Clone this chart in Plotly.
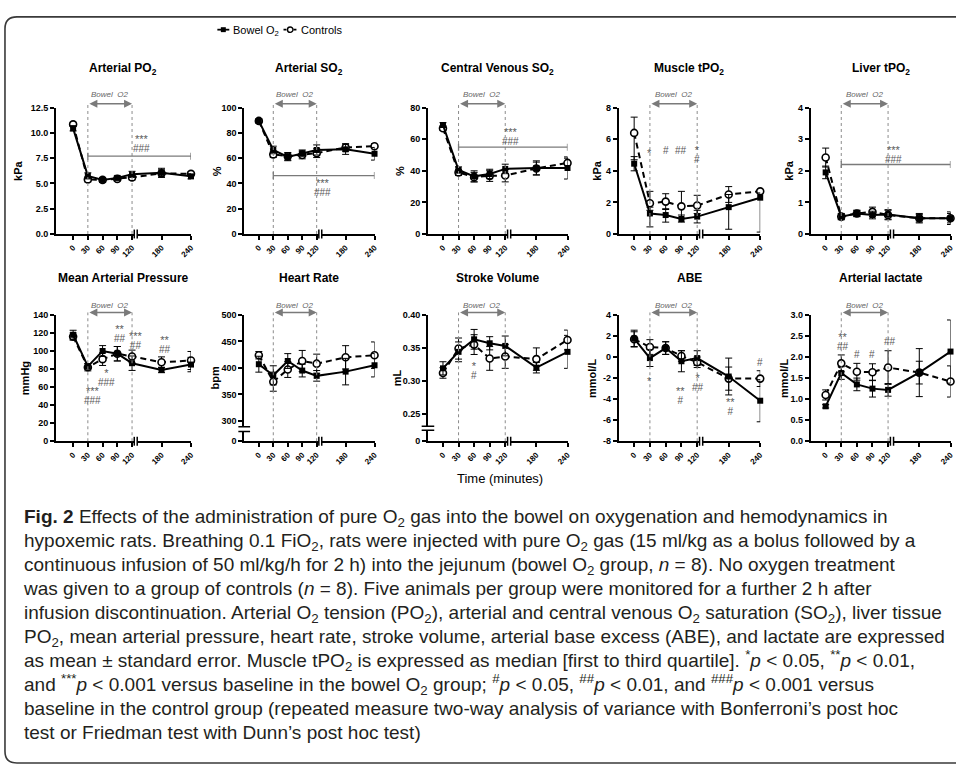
import plotly.graph_objects as go

W, H = 956, 770

# ---------------- data ----------------
time_min = [0, 30, 60, 90, 120, 180, 240]
time_labels = ["0", "30", "60", "90", "120", "180", "240"]

# Arterial PO2 (kPa)
po2_bowel = [10.45, 5.75, 5.35, 5.55, 5.9, 6.05, 5.7]
po2_bowel_se = [0.25, 0.3, 0.2, 0.2, 0.3, 0.45, 0.25]
po2_ctrl = [10.85, 5.4, 5.35, 5.45, 5.6, 6.0, 5.95]
po2_ctrl_se = [0.2, 0.25, 0.25, 0.2, 0.25, 0.35, 0.2]

# Arterial SO2 (%)
so2_bowel = [89.5, 66.5, 61.0, 64.0, 66.5, 67.0, 63.5]
so2_bowel_se = [1.5, 3.0, 3.0, 2.5, 4.0, 4.0, 5.0]
so2_ctrl = [89.5, 63.0, 61.5, 62.5, 64.0, 68.5, 69.5]
so2_ctrl_se = [1.5, 2.5, 3.0, 3.0, 3.5, 3.0, 2.0]

# Central venous SO2 (%)
cvso2_bowel = [69.0, 40.5, 36.5, 38.0, 41.2, 41.8, 41.8]
cvso2_bowel_se = [1.5, 2.0, 3.5, 3.0, 3.0, 4.5, 7.0]
cvso2_ctrl = [67.0, 39.0, 36.0, 36.8, 37.0, 41.5, 45.0]
cvso2_ctrl_se = [1.5, 2.0, 3.0, 3.5, 4.0, 4.0, 3.0]

# Muscle tPO2 (kPa) median [Q1, Q3]
mus_bowel = [4.45, 1.3, 1.2, 0.95, 1.1, 1.7, 2.3]
mus_bowel_q1 = [4.0, 0.45, 0.75, 0.75, 0.7, 0.3, 0.12]
mus_bowel_q3 = [4.9, 1.7, 1.6, 1.2, 1.5, 2.5, 2.6]
mus_ctrl = [6.4, 1.95, 2.05, 1.75, 1.8, 2.5, 2.7]
mus_ctrl_q1 = [4.7, 1.5, 1.55, 1.0, 1.3, 2.0, 2.6]
mus_ctrl_q3 = [7.4, 2.7, 2.55, 2.7, 2.45, 3.0, 2.8]

# Liver tPO2 (kPa)
liv_bowel = [1.95, 0.55, 0.65, 0.6, 0.62, 0.5, 0.5]
liv_bowel_se = [0.2, 0.08, 0.1, 0.12, 0.15, 0.12, 0.15]
liv_ctrl = [2.42, 0.55, 0.65, 0.7, 0.6, 0.5, 0.5]
liv_ctrl_se = [0.3, 0.1, 0.1, 0.15, 0.15, 0.15, 0.2]

# Mean arterial pressure (mmHg)
map_bowel = [118, 83, 100, 97, 86.5, 79, 85]
map_bowel_se = [5, 3, 6, 8, 8, 3, 8]
map_ctrl = [116, 82, 91, 97, 94, 87.5, 89.5]
map_ctrl_se = [4, 4, 7, 8, 7, 6, 10]

# Heart rate (bpm)
hr_bowel = [407, 386, 413, 395, 385, 393, 405]
hr_bowel_se = [15, 18, 14, 12, 10, 25, 22]
hr_ctrl = [424, 374, 397, 413, 408, 420, 424]
hr_ctrl_se = [7, 18, 15, 20, 18, 22, 25]

# Stroke volume (mL)
sv_bowel = [0.319, 0.344, 0.363, 0.357, 0.353, 0.320, 0.344]
sv_bowel_se = [0.010, 0.015, 0.015, 0.010, 0.015, 0.008, 0.025]
sv_ctrl = [0.312, 0.349, 0.355, 0.334, 0.337, 0.333, 0.362]
sv_ctrl_se = [0.008, 0.016, 0.015, 0.018, 0.018, 0.017, 0.015]

# Arterial base excess (mmol/L)
abe_bowel = [1.75, -0.1, 0.85, -0.4, -0.1, -1.85, -4.15]
abe_bowel_se = [0.8, 0.8, 0.6, 1.0, 0.7, 1.75, 2.0]
abe_ctrl = [1.7, 0.95, 0.85, 0.1, -0.5, -2.05, -2.05]
abe_ctrl_se = [0.7, 0.7, 0.6, 0.5, 0.5, 1.1, 0.75]

# Arterial lactate (mmol/L)
lac_bowel = [0.83, 1.62, 1.35, 1.25, 1.22, 1.63, 2.13]
lac_bowel_se = [0.04, 0.15, 0.15, 0.2, 0.15, 0.27, 0.75]
lac_ctrl = [1.1, 1.85, 1.65, 1.64, 1.75, 1.63, 1.42]
lac_ctrl_se = [0.12, 0.2, 0.2, 0.2, 0.4, 0.57, 0.37]

panel_titles = ["Arterial PO<sub>2</sub>", "Arterial SO<sub>2</sub>", "Central Venous SO<sub>2</sub>",
                "Muscle tPO<sub>2</sub>", "Liver tPO<sub>2</sub>", "Mean Arterial Pressure",
                "Heart Rate", "Stroke Volume", "ABE", "Arterial lactate"]
y_titles = ["kPa", "%", "%", "kPa", "kPa", "mmHg", "bpm", "mL", "mmol/L", "mmol/L"]

po2_ticks = [0, 2.5, 5, 7.5, 10, 12.5]
po2_ticklabels = ["0.0", "2.5", "5.0", "7.5", "10.0", "12.5"]
so2_ticks = [0, 20, 40, 60, 80, 100]
cvso2_ticks = [0, 20, 40, 60, 80]
mus_ticks = [0, 2, 4, 6, 8]
liv_ticks = [0, 1, 2, 3, 4]
map_ticks = [0, 20, 40, 60, 80, 100, 120, 140]
hr_ticklabels = ["0", "300", "350", "400", "450", "500"]
sv_ticklabels = ["0", "0.25", "0.30", "0.35", "0.40"]
abe_ticks = [-8, -6, -4, -2, 0, 2, 4]
lac_ticks = [0, 0.5, 1.0, 1.5, 2.0, 2.5, 3.0]
lac_ticklabels = ["0.0", "0.5", "1.0", "1.5", "2.0", "2.5", "3.0"]

# significance marks: (time, value, stacked labels)
po2_sig = [(140, 8.95, ["***", "###"])]
so2_sig = [(132, 36.5, ["***", "###"])]
cvso2_sig = [(130, 61.5, ["***", "###"])]
mus_sig = [(30, 5.3, ["*"]), (60, 5.3, ["#"]), (90, 5.3, ["##"]), (120, 5.05, ["*", "#"])]
liv_sig = [(131, 2.53, ["***", "###"])]
map_sig = [(40, 50.5, ["***", "###"]), (67, 70.5, ["*", "###"]), (96, 119.2, ["**", "##"]),
           (128, 112.1, ["***", "##"]), (188, 107.7, ["**", "##"]), (244, 115, ["**", "#"])]
hr_sig = []
sv_sig = [(60, 0.3155, ["*", "#"])]
abe_sig = [(30, -2.0, ["*"]), (89, -3.65, ["**", "#"]), (122, -2.4, ["*", "##"]),
           (183, -4.67, ["**", "#"]), (240, -0.5, ["#"]), (245, -6.65, ["***"])]
lac_sig = [(33, 2.38, ["**", "##"]), (60, 2.05, ["#"]), (90, 2.05, ["#"]), (123, 2.36, ["##"])]

# horizontal significance bars: (value, from, to)
po2_bar = (7.7, 30, 240)
so2_bar = (46.2, 30, 240)
cvso2_bar = (55.0, 30, 240)
liv_bar = (2.2, 30, 240)

caption_lines = [
    "<b>Fig. 2</b> Effects of the administration of pure O<sub>2</sub> gas into the bowel on oxygenation and hemodynamics in",
    "hypoxemic rats. Breathing 0.1 FiO<sub>2</sub>, rats were injected with pure O<sub>2</sub> gas (15 ml/kg as a bolus followed by a",
    "continuous infusion of 50 ml/kg/h for 2 h) into the jejunum (bowel O<sub>2</sub> group, <i>n</i> = 8). No oxygen treatment",
    "was given to a group of controls (<i>n</i> = 8). Five animals per group were monitored for a further 2 h after",
    "infusion discontinuation. Arterial O<sub>2</sub> tension (PO<sub>2</sub>), arterial and central venous O<sub>2</sub> saturation (SO<sub>2</sub>), liver tissue",
    "PO<sub>2</sub>, mean arterial pressure, heart rate, stroke volume, arterial base excess (ABE), and lactate are expressed",
    "as mean ± standard error. Muscle tPO<sub>2</sub> is expressed as median [first to third quartile]. <sup>*</sup><i>p</i> &lt; 0.05, <sup>**</sup><i>p</i> &lt; 0.01,",
    "and <sup>***</sup><i>p</i> &lt; 0.001 versus baseline in the bowel O<sub>2</sub> group; <sup>#</sup><i>p</i> &lt; 0.05, <sup>##</sup><i>p</i> &lt; 0.01, and <sup>###</sup><i>p</i> &lt; 0.001 versus",
    "baseline in the control group (repeated measure two-way analysis of variance with Bonferroni’s post hoc",
    "test or Friedman test with Dunn’s post hoc test)",
]

# ---------------- layout geometry ----------------
def xp(p):
    return p / W

def yp(p):
    return 1 - p / H

cols = [(56.2, 73.5, 192.0), (245.5, 260.2, 376.5), (430.2, 445.3, 570.5),
        (622.0, 637.5, 764.2), (815.0, 830.0, 955.5)]
rows = [(104.0, 232.0), (314.0, 442.0)]
title_y = [65, 277]
ytitle_off = [38, 28, 28, 22, 22, 31, 29, 31, 27, 27]

hr_zero = 261.6
sv_zero = 0.2084


def sym(v, e):
    return dict(type="data", array=e, arrayminus=e)


def asym(v, lo, hi):
    return dict(type="data", array=[h - m for m, h in zip(v, hi)],
                arrayminus=[m - l for m, l in zip(v, lo)])


panels = [
    dict(b=po2_bowel, be=sym(po2_bowel, po2_bowel_se), c=po2_ctrl, ce=sym(po2_ctrl, po2_ctrl_se),
         yr=[0, 12.5], tv=po2_ticks, tt=po2_ticklabels, sig=po2_sig, bar=po2_bar),
    dict(b=so2_bowel, be=sym(so2_bowel, so2_bowel_se), c=so2_ctrl, ce=sym(so2_ctrl, so2_ctrl_se),
         yr=[0, 100], tv=so2_ticks, tt=[str(t) for t in so2_ticks], sig=so2_sig, bar=so2_bar),
    dict(b=cvso2_bowel, be=sym(cvso2_bowel, cvso2_bowel_se), c=cvso2_ctrl, ce=sym(cvso2_ctrl, cvso2_ctrl_se),
         yr=[0, 80], tv=cvso2_ticks, tt=[str(t) for t in cvso2_ticks], sig=cvso2_sig, bar=cvso2_bar),
    dict(b=mus_bowel, be=asym(mus_bowel, mus_bowel_q1, mus_bowel_q3), c=mus_ctrl,
         ce=asym(mus_ctrl, mus_ctrl_q1, mus_ctrl_q3),
         yr=[0, 8], tv=mus_ticks, tt=[str(t) for t in mus_ticks], sig=mus_sig, bar=None),
    dict(b=liv_bowel, be=sym(liv_bowel, liv_bowel_se), c=liv_ctrl, ce=sym(liv_ctrl, liv_ctrl_se),
         yr=[0, 4], tv=liv_ticks, tt=[str(t) for t in liv_ticks], sig=liv_sig, bar=liv_bar),
    dict(b=map_bowel, be=sym(map_bowel, map_bowel_se), c=map_ctrl, ce=sym(map_ctrl, map_ctrl_se),
         yr=[0, 140], tv=map_ticks, tt=[str(t) for t in map_ticks], sig=map_sig, bar=None),
    dict(b=hr_bowel, be=sym(hr_bowel, hr_bowel_se), c=hr_ctrl, ce=sym(hr_ctrl, hr_ctrl_se),
         yr=[hr_zero, 500], tv=[hr_zero, 300, 350, 400, 450, 500], tt=hr_ticklabels, sig=hr_sig, bar=None,
         ybreak=(280, 289)),
    dict(b=sv_bowel, be=sym(sv_bowel, sv_bowel_se), c=sv_ctrl, ce=sym(sv_ctrl, sv_ctrl_se),
         yr=[sv_zero, 0.40], tv=[sv_zero, 0.25, 0.30, 0.35, 0.40], tt=sv_ticklabels, sig=sv_sig, bar=None,
         ybreak=(0.225, 0.231)),
    dict(b=abe_bowel, be=sym(abe_bowel, abe_bowel_se), c=abe_ctrl, ce=sym(abe_ctrl, abe_ctrl_se),
         yr=[-8, 4], tv=abe_ticks, tt=[str(t) for t in abe_ticks], sig=abe_sig, bar=None),
    dict(b=lac_bowel, be=sym(lac_bowel, lac_bowel_se), c=lac_ctrl, ce=sym(lac_ctrl, lac_ctrl_se),
         yr=[0, 3], tv=lac_ticks, tt=lac_ticklabels, sig=lac_sig, bar=None),
]

FONT = "Arial, Liberation Sans, sans-serif"
GREY = "#7a7a7a"
SIGC = "#5a5a5a"

fig = go.Figure()
shapes = []
annos = []
layout_axes = {}

for i, p in enumerate(panels):
    r, c = divmod(i, 5)
    axl, x0px, x240px = cols[c]
    top, bot = rows[r]
    s = (x240px - x0px) / 240.0
    xmin = -(x0px - axl) / s
    n = "" if i == 0 else str(i + 1)
    xa, ya = "x" + n, "y" + n

    err_style = dict(color="black", thickness=1, width=3.5)
    ce = dict(p["ce"]); ce.update(err_style)
    be = dict(p["be"]); be.update(err_style)

    fig.add_trace(go.Scatter(
        x=time_min, y=p["c"], mode="lines+markers", xaxis=xa, yaxis=ya, cliponaxis=False,
        line=dict(color="black", width=2, dash="6px,4px"),
        marker=dict(symbol="circle", size=7, color="white", line=dict(color="black", width=1.6)),
        error_y=ce, showlegend=False, name="Controls"))
    fig.add_trace(go.Scatter(
        x=time_min, y=p["b"], mode="lines+markers", xaxis=xa, yaxis=ya, cliponaxis=False,
        line=dict(color="black", width=2),
        marker=dict(symbol="square", size=6, color="black"),
        error_y=be, showlegend=False, name="Bowel O2"))

    layout_axes["xaxis" + n] = dict(
        domain=[xp(axl), xp(x240px)], range=[xmin, 240], anchor=ya,
        tickmode="array", tickvals=time_min, ticktext=time_labels, tickangle=-45,
        showline=True, linecolor="black", linewidth=1.8, ticks="outside", ticklen=4,
        tickwidth=1.5, tickcolor="black", showgrid=False, zeroline=False,
        tickfont=dict(family=FONT, size=8, color="black", weight="bold"))
    layout_axes["yaxis" + n] = dict(
        domain=[yp(bot), yp(top)], range=p["yr"], anchor=xa,
        tickmode="array", tickvals=p["tv"], ticktext=p["tt"],
        showline=True, linecolor="black", linewidth=1.8, ticks="outside", ticklen=4,
        tickwidth=1.5, tickcolor="black", showgrid=False, zeroline=False,
        tickfont=dict(family=FONT, size=9, color="black", weight="bold"))

    # title
    annos.append(dict(text=panel_titles[i], xref="paper", yref="paper",
                      x=xp((axl + x240px) / 2), y=yp(title_y[r]),
                      showarrow=False, xanchor="center", yanchor="middle",
                      font=dict(family=FONT, size=12, color="black", weight="bold")))
    # y title
    annos.append(dict(text=y_titles[i], xref="paper", yref="paper",
                      x=xp(axl - ytitle_off[i]), y=yp((top + bot) / 2), textangle=-90,
                      showarrow=False, xanchor="center", yanchor="middle",
                      font=dict(family=FONT, size=11, color="black", weight="bold")))

    # Bowel O2 infusion period
    arr = (bot - (top - (4 if r == 0 else 2.5))) / (bot - top)
    txt = (bot - (top - (13 if r == 0 else 10))) / (bot - top)
    for xv in (30, 120):
        shapes.append(dict(type="line", xref=xa, yref=ya + " domain", x0=xv, x1=xv, y0=0, y1=arr,
                           line=dict(color="#8c8c8c", width=1, dash="dot")))
    annos.append(dict(text="", xref=xa, yref=ya + " domain", x=120, y=arr,
                      axref=xa, ayref=ya + " domain", ax=30, ay=arr, showarrow=True,
                      arrowside="end+start", arrowhead=2, startarrowhead=2, arrowsize=1,
                      startarrowsize=1, arrowwidth=1.6, arrowcolor=GREY, standoff=0, startstandoff=0))
    annos.append(dict(text="Bowel  O2", xref=xa, yref=ya + " domain", x=75, y=txt, showarrow=False,
                      xanchor="center", yanchor="middle",
                      font=dict(family=FONT, size=8, color="#666666", style="italic")))

    # x-axis break
    shapes.append(dict(type="rect", xref=xa, yref=ya + " domain", x0=124.5, x1=130.5, y0=-0.03, y1=0.03,
                       fillcolor="white", line=dict(width=0), layer="above"))
    for xv in (124.5, 130.5):
        shapes.append(dict(type="line", xref=xa, yref=ya + " domain", x0=xv, x1=xv, y0=-0.035, y1=0.035,
                           line=dict(color="black", width=1.5), layer="above"))

    # y-axis break
    if "ybreak" in p:
        b0, b1 = p["ybreak"]
        shapes.append(dict(type="rect", xref=xa + " domain", yref=ya, x0=-0.03, x1=0.03, y0=b0, y1=b1,
                           fillcolor="white", line=dict(width=0), layer="above"))
        for yv in (b0, b1):
            shapes.append(dict(type="line", xref=xa + " domain", yref=ya, x0=-0.045, x1=0.045, y0=yv, y1=yv,
                               line=dict(color="black", width=1.5), layer="above"))

    # significance bar
    if p["bar"] is not None:
        v, a, b = p["bar"]
        shapes.append(dict(type="line", xref=xa, yref=ya, x0=a, x1=b, y0=v, y1=v,
                           line=dict(color=GREY, width=1.3)))
        for xv in (a, b):
            shapes.append(dict(type="line", xref=xa, yref=ya, x0=xv, x1=xv, ysizemode="pixel",
                               yanchor=v, y0=-3.5, y1=3.5, line=dict(color=GREY, width=1.3)))
    # significance symbols (stacked)
    for (tx, ty, labels) in p["sig"]:
        parts = []
        for lab in labels:
            fs = 11 if "*" in lab else 10
            parts.append(f"<span style='font-size:{fs}px'>{lab}</span>")
        only_star = all("*" in lab for lab in labels)
        annos.append(dict(text="<br>".join(parts), xref=xa, yref=ya, x=tx, y=ty, showarrow=False,
                          xanchor="center", yanchor="middle", yshift=(-3 if only_star else 0),
                          font=dict(family=FONT, size=7, color=SIGC)))

# x axis title
annos.append(dict(text="Time (minutes)", xref="paper", yref="paper", x=xp(503), y=yp(480),
                  showarrow=False, font=dict(family=FONT, size=13, color="black")))

# legend (drawn)
LY = 25
shapes.append(dict(type="line", xref="paper", yref="paper", x0=xp(218.5), x1=xp(230.5), y0=yp(LY), y1=yp(LY),
                   line=dict(color="black", width=1.8)))
shapes.append(dict(type="rect", xref="paper", yref="paper", x0=xp(222), x1=xp(227), y0=yp(LY - 2.5),
                   y1=yp(LY + 2.5), fillcolor="black", line=dict(width=0)))
shapes.append(dict(type="line", xref="paper", yref="paper", x0=xp(285), x1=xp(298), y0=yp(LY), y1=yp(LY),
                   line=dict(color="black", width=1.8, dash="3px,2px")))
shapes.append(dict(type="circle", xref="paper", yref="paper", x0=xp(289), x1=xp(294.5), y0=yp(LY - 2.75),
                   y1=yp(LY + 2.75), fillcolor="white", line=dict(color="black", width=1.4)))
annos.append(dict(text="Bowel O<sub>2</sub>", xref="paper", yref="paper", x=xp(232), y=yp(LY + 1),
                  showarrow=False, xanchor="left", yanchor="middle",
                  font=dict(family=FONT, size=11, color="black")))
annos.append(dict(text="Controls", xref="paper", yref="paper", x=xp(301), y=yp(LY),
                  showarrow=False, xanchor="left", yanchor="middle",
                  font=dict(family=FONT, size=11, color="black")))

# caption: one text block; base size sets 24 px line pitch, spans set glyph size
cap_text = "<br>".join(f"<span style='font-size:19px'>{ln}</span>" for ln in caption_lines)
annos.append(dict(text=cap_text, xref="paper", yref="paper", x=xp(21),
                  y=yp(519 + 24.1 * 4.5), showarrow=False, xanchor="left", yanchor="middle", align="left",
                  font=dict(family="Liberation Sans, Arial, sans-serif", size=18.5, color="#231f20")))

# frame
frame = (f"M {xp(990)},{yp(12)} L {xp(17)},{yp(12)} Q {xp(5)},{yp(12)} {xp(5)},{yp(24)} "
         f"L {xp(5)},{yp(756)} Q {xp(5)},{yp(768)} {xp(17)},{yp(768)} L {xp(990)},{yp(768)}")
shapes.append(dict(type="path", xref="paper", yref="paper", path=frame,
                   line=dict(color="#3a3a3a", width=1.6)))

fig.update_layout(
    width=W, height=H, margin=dict(l=0, r=0, t=0, b=0),
    paper_bgcolor="white", plot_bgcolor="white", showlegend=False,
    shapes=shapes, annotations=annos, **layout_axes)

fig.write_html("out.html", config={"displayModeBar": False},
               post_script="document.body.style.margin='0px';")
